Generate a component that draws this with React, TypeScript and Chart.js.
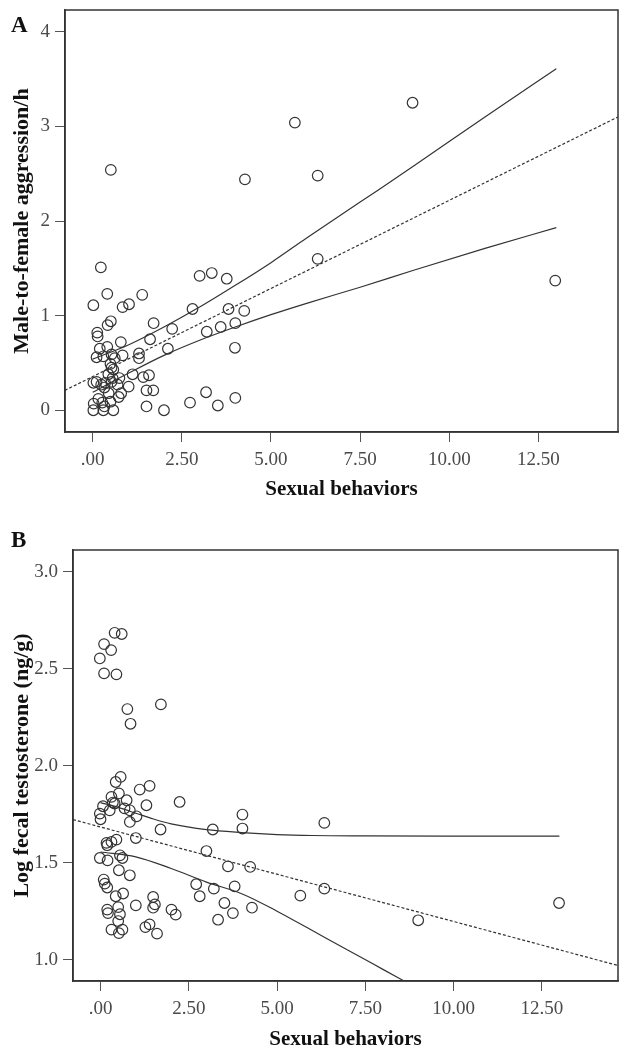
import React, { useEffect, useRef } from "react";
import { Chart, registerables } from "chart.js";
Chart.register(...registerables);

// ---------- shared axis ticks ----------
const xTicks = [0, 2.5, 5, 7.5, 10, 12.5];
const xTickLabels = [".00", "2.50", "5.00", "7.50", "10.00", "12.50"];
const xTitle = "Sexual behaviors";

// ---------- Panel A ----------
const yTicksA = [0, 1, 2, 3, 4];
const yTickLabelsA = ["0", "1", "2", "3", "4"];
const yTitleA = "Male-to-female aggression/h";

const sexA = [
  0.51, 4.27, 5.67, 8.97, 6.31, 6.31, 12.97, 0.23, 0.02, 0.41, 0.84, 1.02, 1.39, 3.0, 3.34, 3.76, 2.8,
  3.81, 4.25, 1.71, 2.23, 3.2, 3.59, 4.0, 3.99, 2.11, 1.61, 0.13, 0.14, 0.51, 0.42, 0.79, 0.41, 0.2,
  0.11, 0.3, 0.53, 0.84, 1.3, 1.3, 1.12, 1.42, 1.58, 1.51, 1.7, 1.01, 0.75, 0.5, 0.53, 0.58, 0.44,
  0.11, 0.02, 0.24, 0.33, 0.53, 0.56, 0.7, 0.16, 0.03, 0.27, 0.5, 0.73, 0.8, 0.02, 0.3, 0.58, 0.33,
  1.51, 2.0, 2.73, 3.18, 3.51, 4.0, 0.35, 0.45, 0.62,
];
const aggA = [
  2.54, 2.44, 3.04, 3.25, 2.48, 1.6, 1.37, 1.51, 1.11, 1.23, 1.09, 1.12, 1.22, 1.42, 1.45, 1.39, 1.07,
  1.07, 1.05, 0.92, 0.86, 0.83, 0.88, 0.92, 0.66, 0.65, 0.75, 0.82, 0.78, 0.94, 0.9, 0.72, 0.67, 0.65,
  0.56, 0.57, 0.59, 0.58, 0.6, 0.55, 0.38, 0.35, 0.37, 0.21, 0.21, 0.25, 0.34, 0.49, 0.45, 0.43, 0.38,
  0.3, 0.29, 0.27, 0.24, 0.3, 0.34, 0.27, 0.12, 0.07, 0.08, 0.09, 0.14, 0.18, 0.0, 0.0, 0.0, 0.04,
  0.04, 0.0, 0.08, 0.19, 0.05, 0.13, 0.29, 0.18, 0.55,
];
const fitAx = [-0.78, 14.73];
const fitAy = [0.21, 3.1];
const ciAx = [0, 1, 2, 3, 4, 5, 6, 7.5, 9, 11, 13];
const ciAUpper = [0.54, 0.69, 0.88, 1.09, 1.32, 1.56, 1.82, 2.2, 2.58, 3.1, 3.61];
const ciALower = [0.19, 0.39, 0.58, 0.74, 0.88, 1.01, 1.13, 1.3, 1.48, 1.71, 1.93];

// ---------- Panel B ----------
const yTicksB = [1.0, 1.5, 2.0, 2.5, 3.0];
const yTickLabelsB = ["1.0", "1.5", "2.0", "2.5", "3.0"];
const yTitleB = "Log fecal testosterone (ng/g)";

const sexB = [
  -0.02, 0.1, 0.3, 0.4, 0.6, 0.1, 0.45, 0.76, 0.85, 1.71, 0.57, 0.43, 1.11, 1.39, 2.24, 0.31, 0.52,
  0.74, 0.4, 0.07, 0.26, 0.83, 1.02, 1.3, -0.02, 0.0, 0.83, 1.7, 1.0, 3.18, 4.02, 4.02, 3.0, 3.61,
  4.24, 5.66, 0.17, 0.31, 0.45, 0.19, -0.02, 0.2, 0.55, 0.62, 0.52, 0.83, 0.09, 0.12, 0.19, 0.43,
  0.64, 1.0, 1.49, 1.54, 1.49, 0.19, 0.21, 0.5, 0.55, 0.5, 0.31, 0.52, 0.62, 1.27, 1.39, 1.6, 2.01,
  2.13, 2.71, 2.81, 3.21, 3.51, 3.8, 3.75, 3.33, 4.29, 6.34, 6.34, 9.0, 12.99, 0.35, 0.68,
];
const testoB = [
  2.553, 2.627, 2.596, 2.685, 2.679, 2.476, 2.471, 2.292, 2.216, 2.316, 1.942, 1.916, 1.877, 1.896,
  1.813, 1.839, 1.857, 1.822, 1.805, 1.791, 1.77, 1.77, 1.739, 1.796, 1.753, 1.724, 1.71, 1.671,
  1.627, 1.671, 1.748, 1.676, 1.56, 1.481, 1.478, 1.33, 1.602, 1.607, 1.619, 1.59, 1.524, 1.512,
  1.538, 1.524, 1.461, 1.435, 1.413, 1.392, 1.372, 1.327, 1.341, 1.28, 1.323, 1.285, 1.268, 1.258,
  1.24, 1.271, 1.234, 1.199, 1.155, 1.137, 1.155, 1.168, 1.182, 1.134, 1.258, 1.232, 1.389, 1.327,
  1.366, 1.292, 1.378, 1.24, 1.206, 1.268, 1.705, 1.366, 1.203, 1.292, 1.81, 1.78,
];
const fitBx = [-0.78, 14.66];
const fitBy = [1.722, 0.97];
const ciBUx = [0, 0.5, 1, 1.5, 2, 3, 4, 5, 6, 7.5, 10, 13];
const ciBUpper = [1.81, 1.785, 1.755, 1.725, 1.7, 1.67, 1.655, 1.645, 1.64, 1.638, 1.637, 1.637];
const ciBLx = [0, 1, 2, 3, 4, 5, 6, 7, 8, 9, 10, 13];
const ciBLower = [1.555, 1.53, 1.47, 1.4, 1.34, 1.25, 1.15, 1.05, 0.95, 0.85, 0.75, 0.45];

const FONT = '"Liberation Serif", "Times New Roman", serif';
const INK = "#333";

const zip = (xs: number[], ys: number[]) => xs.map((x, i) => ({ x, y: ys[i] }));

const framePlugin = {
  id: "frame",
  afterDraw(chart: any, _args: any, opts: any) {
    const { ctx, chartArea: ca } = chart;
    ctx.save();
    ctx.strokeStyle = INK;
    ctx.lineWidth = 1.5;
    ctx.strokeRect(ca.left, ca.top, ca.right - ca.left, ca.bottom - ca.top);
    ctx.fillStyle = "#111";
    ctx.font = `bold 23px ${FONT}`;
    ctx.textBaseline = "alphabetic";
    ctx.textAlign = "left";
    ctx.fillText(opts.letter, opts.lx, opts.ly);
    ctx.restore();
  },
};

type PanelProps = {
  width: number;
  height: number;
  padTop: number;
  yWidth: number;
  xHeight: number;
  xMin: number;
  xMax: number;
  yMin: number;
  yMax: number;
  yTicks: number[];
  yTickLabels: string[];
  yTitle: string;
  xs: number[];
  ys: number[];
  fit: { x: number; y: number }[];
  ciU: { x: number; y: number }[];
  ciL: { x: number; y: number }[];
  letter: string;
  letterY: number;
  xTitlePad: number;
};

function Panel(p: PanelProps) {
  const ref = useRef<HTMLCanvasElement | null>(null);
  useEffect(() => {
    if (!ref.current) return;
    const lineDs = (data: any[], dash: number[], w: number) => ({
      type: "scatter" as const,
      data,
      showLine: true,
      pointRadius: 0,
      borderColor: INK,
      borderWidth: w,
      borderDash: dash,
      fill: false,
      cubicInterpolationMode: "monotone" as const,
      tension: 0.4,
    });
    const tickFont = { family: FONT, size: 19 };
    const chart = new Chart(ref.current, {
      type: "scatter",
      data: {
        datasets: [
          lineDs(p.ciU, [], 1.2),
          lineDs(p.ciL, [], 1.2),
          lineDs(p.fit, [3, 2], 1.2),
          {
            type: "scatter",
            data: zip(p.xs, p.ys),
            pointRadius: 5.3,
            pointBorderWidth: 1.2,
            pointBorderColor: INK,
            pointBackgroundColor: "rgba(0,0,0,0)",
            showLine: false,
          } as any,
        ],
      },
      options: {
        responsive: false,
        animation: false,
        events: [],
        layout: { autoPadding: false, padding: { top: p.padTop, right: 1, left: 0, bottom: 0 } },
        plugins: {
          legend: { display: false },
          tooltip: { enabled: false },
          frame: { letter: p.letter, lx: 11, ly: p.letterY },
        } as any,
        scales: {
          x: {
            type: "linear",
            min: p.xMin,
            max: p.xMax,
            afterBuildTicks: (s: any) => {
              s.ticks = xTicks.map((v) => ({ value: v }));
            },
            afterFit: (s: any) => {
              s.height = p.xHeight;
              s.paddingLeft = 0;
              s.paddingRight = 0;
            },
            ticks: {
              callback: (_v: any, i: number) => xTickLabels[i] ?? "",
              font: tickFont,
              color: "#4a4a4a",
              padding: 7,
              maxRotation: 0,
              autoSkip: false,
            },
            grid: { display: true, drawOnChartArea: false, drawTicks: true, tickLength: 10, color: "#555", lineWidth: 1 },
            border: { display: true, color: INK, width: 1.5 },
            title: {
              display: true,
              text: xTitle,
              font: { family: FONT, size: 21, weight: "bold" },
              color: "#111",
              padding: { top: 0, bottom: p.xTitlePad },
            },
          },
          y: {
            type: "linear",
            min: p.yMin,
            max: p.yMax,
            afterBuildTicks: (s: any) => {
              s.ticks = p.yTicks.map((v) => ({ value: v }));
            },
            afterFit: (s: any) => {
              s.width = p.yWidth;
              s.paddingTop = 0;
              s.paddingBottom = 0;
            },
            ticks: {
              callback: (_v: any, i: number) => p.yTickLabels[i] ?? "",
              font: tickFont,
              color: "#4a4a4a",
              padding: 5,
            },
            grid: { display: true, drawOnChartArea: false, drawTicks: true, tickLength: 10, color: "#555", lineWidth: 1 },
            border: { display: true, color: INK, width: 1.5 },
            title: {
              display: true,
              text: p.yTitle,
              font: { family: FONT, size: 22, weight: "bold" },
              color: "#111",
              padding: { top: 9, bottom: 0 },
            },
          },
        },
      } as any,
      plugins: [framePlugin as any],
    });
    return () => chart.destroy();
  }, []);
  return (
    <canvas
      ref={ref}
      width={p.width}
      height={p.height}
      style={{ display: "block", width: p.width, height: p.height }}
    />
  );
}

export default function App() {
  return (
    <div style={{ position: "absolute", left: 0, top: 0, width: 619, height: 1054, background: "#fff" }}>
      <Panel
        width={619}
        height={512}
        padTop={10}
        yWidth={65}
        xHeight={80}
        xMin={-0.775}
        xMax={14.73}
        yMin={-0.23}
        yMax={4.23}
        yTicks={yTicksA}
        yTickLabels={yTickLabelsA}
        yTitle={yTitleA}
        xs={sexA}
        ys={aggA}
        fit={zip(fitAx, fitAy)}
        ciU={zip(ciAx, ciAUpper)}
        ciL={zip(ciAx, ciALower)}
        letter="A"
        letterY={32}
        xTitlePad={10}
      />
      <Panel
        width={619}
        height={542}
        padTop={38}
        yWidth={73}
        xHeight={73}
        xMin={-0.78}
        xMax={14.66}
        yMin={0.89}
        yMax={3.112}
        yTicks={yTicksB}
        yTickLabels={yTickLabelsB}
        yTitle={yTitleB}
        xs={sexB}
        ys={testoB}
        fit={zip(fitBx, fitBy)}
        ciU={zip(ciBUx, ciBUpper)}
        ciL={zip(ciBLx, ciBLower)}
        letter="B"
        letterY={35}
        xTitlePad={2}
      />
    </div>
  );
}
